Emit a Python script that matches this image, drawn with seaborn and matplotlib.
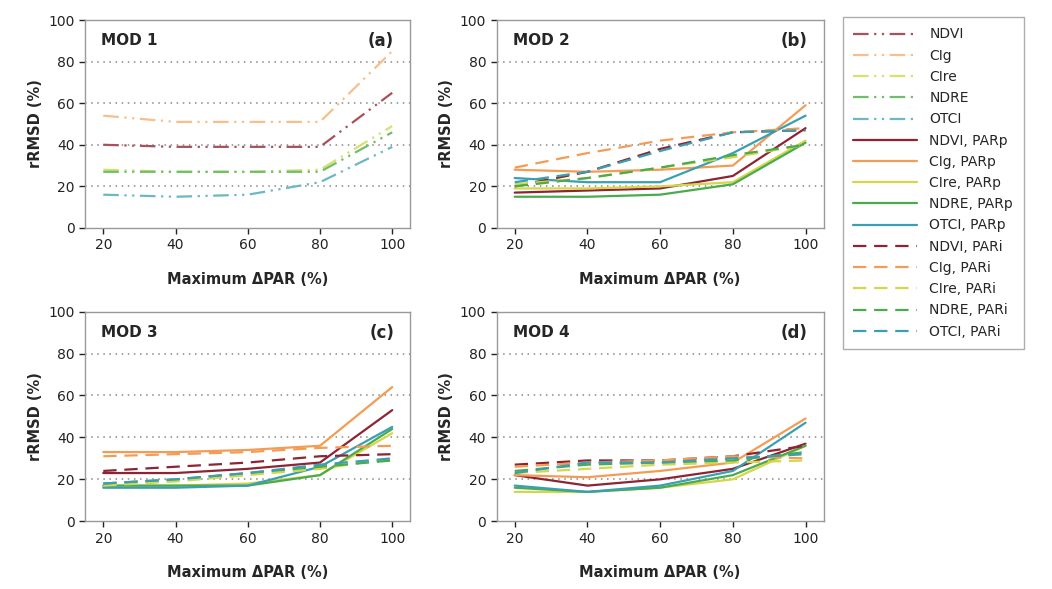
import numpy as np
import matplotlib
matplotlib.use("Agg")
import matplotlib.pyplot as plt
from matplotlib.lines import Line2D
import seaborn as sns
import pandas as pd

# x values (maximum delta PAR, %)
delta_par = [20, 40, 60, 80, 100]

indices = ["NDVI", "CIg", "CIre", "NDRE", "OTCI"]

# MOD 1: vegetation index only
mod1_vi = {
    "NDVI": [40, 39, 39, 39, 65],
    "CIg":  [54, 51, 51, 51, 85],
    "CIre": [28, 27, 27, 28, 49],
    "NDRE": [27, 27, 27, 27, 46],
    "OTCI": [16, 15, 16, 22, 39],
}

# MOD 2
mod2_parp = {
    "NDVI": [17, 18, 19, 25, 48],
    "CIg":  [28, 27, 28, 30, 59],
    "CIre": [19, 19, 20, 22, 42],
    "NDRE": [15, 15, 16, 21, 41],
    "OTCI": [24, 22, 22, 36, 54],
}
mod2_pari = {
    "NDVI": [20, 27, 38, 46, 47],
    "CIg":  [29, 36, 42, 46, 48],
    "CIre": [21, 24, 29, 34, 40],
    "NDRE": [20, 24, 29, 35, 40],
    "OTCI": [22, 27, 37, 46, 47],
}

# MOD 3
mod3_parp = {
    "NDVI": [23, 23, 25, 28, 53],
    "CIg":  [33, 33, 34, 36, 64],
    "CIre": [17, 17, 18, 22, 42],
    "NDRE": [17, 17, 17, 22, 44],
    "OTCI": [16, 16, 17, 26, 45],
}
mod3_pari = {
    "NDVI": [24, 26, 28, 31, 32],
    "CIg":  [31, 32, 33, 35, 36],
    "CIre": [17, 19, 22, 25, 30],
    "NDRE": [18, 20, 23, 26, 29],
    "OTCI": [18, 20, 23, 27, 30],
}

# MOD 4
mod4_parp = {
    "NDVI": [22, 17, 20, 25, 37],
    "CIg":  [22, 21, 24, 28, 49],
    "CIre": [14, 14, 16, 20, 36],
    "NDRE": [16, 14, 16, 22, 36],
    "OTCI": [17, 14, 17, 24, 47],
}
mod4_pari = {
    "NDVI": [27, 29, 29, 31, 36],
    "CIg":  [26, 28, 29, 31, 30],
    "CIre": [23, 25, 27, 28, 29],
    "NDRE": [24, 27, 28, 29, 33],
    "OTCI": [23, 28, 28, 30, 32],
}

colors = {
    "NDVI": "#8c2434",
    "CIg":  "#f39c55",
    "CIre": "#d6d64c",
    "NDRE": "#4aab4e",
    "OTCI": "#3a9fb2",
}
light = {
    "NDVI": "#a8505c",
    "CIg":  "#f6bf8c",
    "CIre": "#d9e070",
    "NDRE": "#6fbf6a",
    "OTCI": "#6ab8c6",
}

dashdotdot = (0, (7, 2.5, 1, 2.5, 1, 2.5))
dashed = (0, (6, 3.5))

sns.set_style("white")
plt.rcParams["font.family"] = ["DejaVu Sans"]

fig = plt.figure(figsize=(10.52, 5.89), dpi=100)

positions = [
    [0.081, 0.613, 0.309, 0.353],
    [0.472, 0.613, 0.311, 0.353],
    [0.081, 0.115, 0.309, 0.356],
    [0.472, 0.115, 0.311, 0.356],
]
panels = [
    ("MOD 1", "(a)", [(mod1_vi, dashdotdot, light)]),
    ("MOD 2", "(b)", [(mod2_parp, "-", colors), (mod2_pari, dashed, colors)]),
    ("MOD 3", "(c)", [(mod3_parp, "-", colors), (mod3_pari, dashed, colors)]),
    ("MOD 4", "(d)", [(mod4_parp, "-", colors), (mod4_pari, dashed, colors)]),
]

for pos, (name, tag, groups) in zip(positions, panels):
    ax = fig.add_axes(pos)
    for g in [20, 40, 60, 80]:
        ax.axhline(g, color="#888888", lw=1.1, ls=(0, (1, 3)), zorder=0)
    for data, ls, cmap in groups:
        for idx in indices:
            df = pd.DataFrame({"x": delta_par, "y": data[idx]})
            sns.lineplot(data=df, x="x", y="y", ax=ax, color=cmap[idx],
                         linestyle=ls, lw=1.6, legend=False)
    ax.set_xlim(15, 105)
    ax.set_ylim(0, 100)
    ax.set_xticks([20, 40, 60, 80, 100])
    ax.set_yticks([0, 20, 40, 60, 80, 100])
    ax.tick_params(axis="both", labelsize=10, colors="#222222",
                   direction="out", length=4, width=1, bottom=True, left=True)
    for s in ax.spines.values():
        s.set_color("#999999")
        s.set_linewidth(1)
    ax.set_xlabel("Maximum \u0394PAR (%)", fontsize=10.5, fontweight="bold", labelpad=14)
    ax.set_ylabel("rRMSD (%)", fontsize=10.5, fontweight="bold", labelpad=4)
    ax.text(0.05, 0.90, name, transform=ax.transAxes, fontsize=11,
            fontweight="bold", va="center")
    ax.text(0.95, 0.90, tag, transform=ax.transAxes, fontsize=12,
            fontweight="bold", va="center", ha="right")

handles = []
labels = []
for idx in indices:
    handles.append(Line2D([], [], color=light[idx], ls=dashdotdot, lw=1.6))
    labels.append(idx)
for idx in indices:
    handles.append(Line2D([], [], color=colors[idx], ls="-", lw=1.6))
    labels.append(idx + ", PARp")
for idx in indices:
    handles.append(Line2D([], [], color=colors[idx], ls=dashed, lw=1.6))
    labels.append(idx + ", PARi")

leg = fig.legend(handles, labels, loc="upper left", bbox_to_anchor=(0.801, 0.971),
                 frameon=True, fancybox=False, fontsize=10, handlelength=4.6,
                 handletextpad=0.9, labelspacing=0.52, borderpad=0.75,
                 borderaxespad=0)
leg.get_frame().set_edgecolor("#999999")
leg.get_frame().set_linewidth(1)

fig.savefig("out.png", dpi=100)
